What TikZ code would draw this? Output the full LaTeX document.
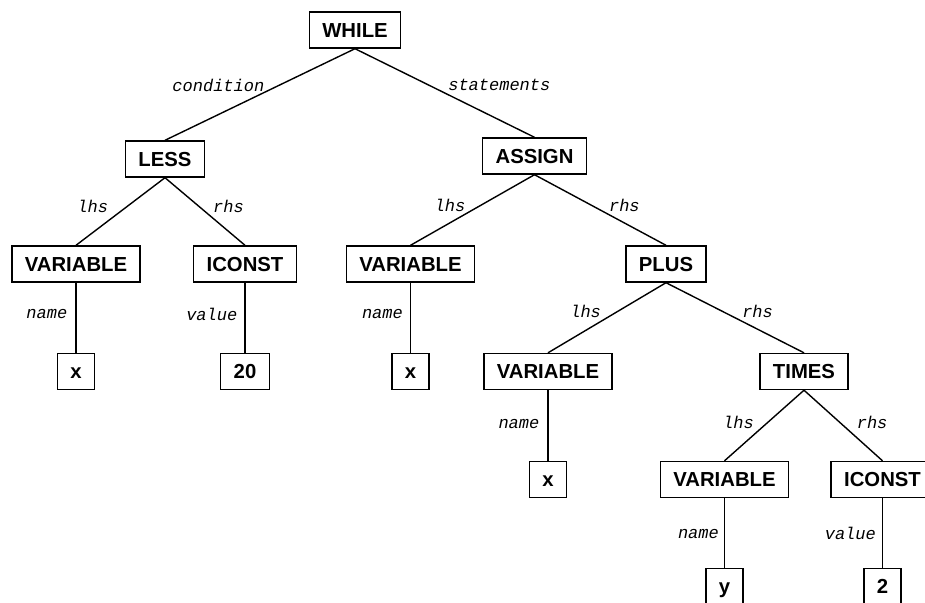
\documentclass[tikz,border=0pt]{standalone}
\usepackage{fontspec}
\setmainfont{Liberation Sans}
\newfontfamily\edgefont{Liberation Mono}
\usetikzlibrary{positioning}

\begin{document}
\begin{tikzpicture}[
  x=1pt, y=-1pt,
  line width=1.4pt,
  ast/.style = {shape=rectangle, draw, inner xsep=13pt, inner ysep=0pt,
    minimum height=36pt, text height=14.6pt, text depth=0pt,
    font=\fontsize{20.3}{24}\selectfont\bfseries},
  lbl/.style = {inner sep=0pt, font=\edgefont\fontsize{17}{20}\selectfont\itshape}
]
  \useasboundingbox (0,0) rectangle (925,602);

  \node[ast] (while)    at (355,30)    {WHILE};
  \node[ast] (less)     at (165,159)   {LESS};
  \node[ast] (assign)   at (534.5,156) {ASSIGN};
  \node[ast] (lvar)     at (76,264)    {VARIABLE};
  \node[ast] (liconst)  at (245,264)   {ICONST};
  \node[ast] (mvar)     at (410.5,264) {VARIABLE};
  \node[ast] (plus)     at (666,264)   {PLUS};
  \node[ast] (lx)       at (76,371.5)  {x};
  \node[ast] (twenty)   at (245,371.5) {20};
  \node[ast] (mx)       at (410.5,371.5) {x};
  \node[ast] (pvar)     at (548,371.5) {VARIABLE};
  \node[ast] (times)    at (804,371.5) {TIMES};
  \node[ast] (px)       at (548,479.5) {x};
  \node[ast] (tvar)     at (724.5,479.5) {VARIABLE};
  \node[ast] (ticonst)  at (882.5,479.5) {ICONST};
  \node[ast] (ty)       at (724.5,586.5) {y};
  \node[ast] (two)      at (882.5,586.5) {2};

  \draw (while.south) -- node[lbl, pos=.40, left=14pt]  {condition}  (less.north);
  \draw (while.south) -- node[lbl, pos=.41, right=19pt] {statements} (assign.north);
  \draw (less.south) -- node[lbl, pos=.43, left=18pt]  {lhs} (lvar.north);
  \draw (less.south) -- node[lbl, pos=.43, right=13pt] {rhs} (liconst.north);
  \draw (lvar.south) -- node[lbl, pos=.45, left=8pt] {name} (lx.north);
  \draw (liconst.south) -- node[lbl, pos=.45, left=7pt] {value} (twenty.north);
  \draw (assign.south) -- node[lbl, pos=.44, left=14pt]  {lhs} (mvar.north);
  \draw (assign.south) -- node[lbl, pos=.44, right=16pt] {rhs} (plus.north);
  \draw (mvar.south) -- node[lbl, pos=.44, left=7pt] {name} (mx.north);
  \draw (plus.south) -- node[lbl, pos=.41, left=16pt]  {lhs} (pvar.north);
  \draw (plus.south) -- node[lbl, pos=.41, right=19pt] {rhs} (times.north);
  \draw (pvar.south) -- node[lbl, pos=.48, left=8pt] {name} (px.north);
  \draw (times.south) -- node[lbl, pos=.46, left=13pt]  {lhs} (tvar.north);
  \draw (times.south) -- node[lbl, pos=.46, right=16pt] {rhs} (ticonst.north);
  \draw (tvar.south) -- node[lbl, pos=.51, left=5pt] {name} (ty.north);
  \draw (ticonst.south) -- node[lbl, pos=.51, left=6pt] {value} (two.north);
\end{tikzpicture}
\end{document}
